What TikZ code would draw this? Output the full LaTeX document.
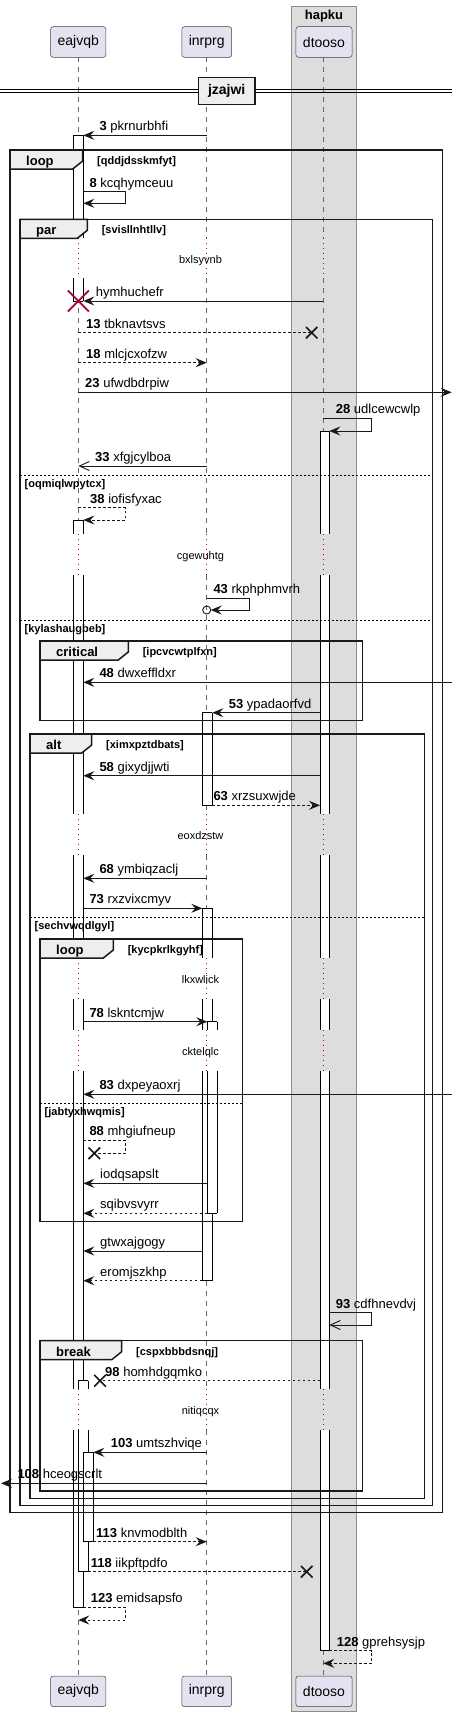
\documentclass[tikz,border=0pt]{standalone}
\usepackage{fontspec}
\setmainfont{Liberation Sans}
\usetikzlibrary{arrows.meta}
\definecolor{crim}{HTML}{A80036}
\definecolor{partfill}{HTML}{E2E2F0}
\definecolor{tabfill}{HTML}{EEEEEE}
\definecolor{grpfill}{HTML}{DDDDDD}
\newcommand\seqnum[1]{\textbf{#1}\ }
\newcommand\seqmsg[7]{%
  \coordinate (#1a) at (#4,#3);
  \coordinate (#1b) at (#5,#3);
  \draw[msg,#2] (#1a) -- (#1b);
  \node[msglab] (#1t) at (#6,#3-4.5) {#7};}
\newcommand\seqself[9]{%
  \coordinate (#1a) at (#3,#4);
  \coordinate (#1b) at (#7,#6);
  \draw[msg,#2] (#1a) -- (#5,#4) -- (#5,#6) -- (#1b);
  \node[msglab] (#1t) at (#8,#4-4.5) {#9};}
\newcommand\actbox[6]{%
  \fill[white] (#1,#3) rectangle (#2,#4);
  \draw[actl] (#1,#3) -- (#1,#4) (#2,#3) -- (#2,#4);
  \ifnum#5=1 \draw[actl] (#1,#3) -- (#2,#3);\fi
  \ifnum#6=1 \draw[actl] (#1,#4) -- (#2,#4);\fi}
\newcommand\seqframe[8]{%
  \draw[frm] (#2,#3) rectangle (#4,#5);
  \filldraw[frm,fill=tabfill] (#2,#3) -- (#6,#3) -- (#6,#3+11) -- (#6-10,#3+19) -- (#2,#3+19) -- cycle;
  \node[tablab] (#1k) at (#2+16,#3+15.5) {#7};
  \node[condlab] (#1c) at (#6+14.3,#3+14.5) {#8};}
\newcommand\seqsep[5]{%
  \draw[sepl] (#2,#4) -- (#3,#4);
  \node[condlab] (#1) at (#2+4.5,#4+12.5) {#5};}
\newcommand\seqx[5]{%
  \coordinate (#1) at (#2,#3);
  \draw[#5] (#2-#4,#3-#4) -- (#2+#4,#3+#4) (#2-#4,#3+#4) -- (#2+#4,#3-#4);}
\begin{document}
\begin{tikzpicture}[x=1pt,y=-1pt,
  msg/.style={line width=0.9pt,draw=black!90},
  fh/.style={-{Stealth[length=11pt,width=9pt,inset=4pt]}},
  oh/.style={-{Straight Barb[length=10pt,width=9pt]}},
  dsh/.style={dash pattern=on 2.5pt off 2.5pt},
  msglab/.style={anchor=base west,inner sep=0pt,font=\fontsize{13}{15}\selectfont},
  lifel/.style={draw=black!60,line width=0.6pt,dash pattern=on 5pt off 5pt},
  delayl/.style={draw=crim,line width=0.9pt,dash pattern=on 1pt off 4pt},
  actl/.style={line width=0.9pt,draw=black},
  frm/.style={line width=1.5pt,draw=black!90},
  tablab/.style={anchor=base west,inner sep=0pt,font=\fontsize{13}{15}\selectfont\bfseries},
  condlab/.style={anchor=base west,inner sep=0pt,font=\fontsize{11}{13}\selectfont\bfseries},
  sepl/.style={line width=0.9pt,dash pattern=on 2pt off 2pt},
  delaytxt/.style={anchor=base,inner sep=0pt,font=\fontsize{11}{13}\selectfont},
  part/.style={draw=black!75,line width=0.5pt,fill=partfill,rounded corners=2.5pt,inner xsep=7pt,inner ysep=0pt,minimum height=30.6pt,font=\fontsize{14}{16}\selectfont},
  xblack/.style={line width=1.7pt,draw=black!90},
  xred/.style={line width=1.8pt,draw=crim}]
\useasboundingbox (0,0) rectangle (458,1717);
% group box
\draw[fill=grpfill,draw=black!45,line width=1pt] (291.7,6) rectangle (356.3,1711.7);
\node[anchor=base,inner sep=0pt,font=\fontsize{13}{15}\selectfont\bfseries] (grp) at (324,19.3) {hapku};
% lifelines
\foreach \x in {78.3,206.7,323.3} {
  \foreach \a/\b in {57.3/238.3,278.3/534,575/814,855/958.3,999/1030,1071/1389,1430/1675.7}
    \draw[lifel] (\x,\a) -- (\x,\b);
  \foreach \a/\b in {238.3/278.3,534/575,814/855,958.3/999,1030/1071,1389/1430}
    \draw[delayl] (\x,\a) -- (\x,\b);
}
% delay texts
\node[delaytxt] (d1) at (200.5,263.3) {bxlsyvnb};
\node[delaytxt] (d2) at (200.5,559) {cgewuhtg};
\node[delaytxt] (d3) at (200.5,839.3) {eoxdzstw};
\node[delaytxt] (d4) at (200.5,983) {lkxwlick};
\node[delaytxt] (d5) at (200.5,1055.7) {cktelqlc};
\node[delaytxt] (d6) at (200.5,1414.7) {nitiqcqx};
% activations
\actbox{73.3}{83.3}{135.3}{238.3}{1}{0}
\actbox{73.3}{83.3}{278.3}{301}{0}{1}
\actbox{73.3}{83.3}{520}{534}{1}{0}
\actbox{73.3}{83.3}{575}{814}{0}{0}
\actbox{73.3}{83.3}{855}{958.3}{0}{0}
\actbox{73.3}{83.3}{999}{1030}{0}{0}
\actbox{73.3}{83.3}{1071}{1389}{0}{0}
\actbox{73.3}{83.3}{1430}{1607.3}{0}{1}
\actbox{78.3}{88.3}{1380.7}{1389}{1}{0}
\actbox{78.3}{88.3}{1430}{1571.7}{0}{1}
\actbox{83.3}{93.3}{1452.3}{1541.7}{1}{1}
\actbox{202.3}{212.3}{712.7}{805.3}{1}{1}
\actbox{202.3}{212.3}{908.3}{958.3}{1}{0}
\actbox{202.3}{212.3}{999}{1030}{0}{0}
\actbox{202.3}{212.3}{1071}{1280.7}{0}{1}
\actbox{207.3}{217.3}{1021.7}{1030}{1}{0}
\actbox{207.3}{217.3}{1071}{1213.3}{0}{1}
\actbox{320}{329.3}{431}{534}{1}{0}
\actbox{320}{329.3}{575}{814}{0}{0}
\actbox{320}{329.3}{855}{958.3}{0}{0}
\actbox{320}{329.3}{999}{1030}{0}{0}
\actbox{320}{329.3}{1071}{1389}{0}{0}
\actbox{320}{329.3}{1430}{1650.7}{0}{1}
% frames
\seqframe{f1}{10}{150}{442.7}{1512.7}{82.7}{loop}{[qddjdsskmfyt]}
\seqframe{f2}{20}{219.3}{432.7}{1505.7}{87.3}{par}{[svisllnhtllv]}
\seqsep{s1}{20}{432.7}{475.3}{[oqmiqlwpytcx]}
\seqsep{s2}{20}{432.7}{620}{[kylashaugbeb]}
\seqframe{f3}{40}{641}{362.3}{720.3}{128.3}{critical}{[ipcvcwtplfxn]}
\seqframe{f4}{30}{734}{424.3}{1498.3}{91.7}{alt}{[ximxpztdbats]}
\seqsep{s3}{30}{424.3}{917.3}{[sechvwqdlgyl]}
\seqframe{f5}{40}{939}{242.3}{1221.3}{113.3}{loop}{[kycpkrlkgyhf]}
\seqsep{s4}{40}{242.3}{1103.3}{[jabtyxhwqmis]}
\seqframe{f6}{40}{1340.7}{362.3}{1491}{121.7}{break}{[cspxbbbdsnqj]}
% messages
\seqmsg{m3}{fh}{135.3}{206.7}{83.3}{99.3}{\seqnum{3}pkrnurbhfi}
\seqself{m8}{fh}{83.3}{191.7}{125.3}{203.3}{83.3}{89.3}{\seqnum{8}kcqhymceuu}
\seqmsg{m10}{fh}{301}{323.3}{83.3}{95.7}{hymhuchefr}
\seqx{x10}{78.3}{301}{10.5}{xred}
\seqmsg{m13}{dsh}{332.7}{78.3}{311.7}{86}{\seqnum{13}tbknavtsvs}
\seqx{x13}{311.7}{332.7}{5.7}{xblack}
\seqmsg{m18}{fh,dsh}{362.7}{78.3}{206.7}{86}{\seqnum{18}mlcjcxofzw}
\seqmsg{m23}{fh}{392.3}{78.3}{451.7}{85}{\seqnum{23}ufwdbdrpiw}
\seqself{m28}{fh}{323.3}{418.3}{371.7}{431}{329.3}{335.7}{\seqnum{28}udlcewcwlp}
\seqmsg{m33}{oh}{466}{206.7}{78.3}{95}{\seqnum{33}xfgjcylboa}
\seqself{m38}{fh,dsh}{78.3}{507.7}{125.3}{520}{83.3}{90}{\seqnum{38}iofisfyxac}
\seqself{m43}{fh}{206.7}{598.3}{249.3}{610}{210.7}{213.3}{\seqnum{43}rkphphmvrh}
\node[circle,draw=black!90,line width=0.9pt,inner sep=0pt,minimum size=8pt] (c43) at (206.7,610) {};
\seqmsg{m48}{fh}{682.3}{451.7}{83.3}{99.3}{\seqnum{48}dwxeffldxr}
\seqmsg{m53}{fh}{712.7}{320}{212.3}{228.7}{\seqnum{53}ypadaorfvd}
\seqmsg{m58}{fh}{775.7}{320}{83.3}{99.3}{\seqnum{58}gixydjjwti}
\seqmsg{m63}{fh,dsh}{805.3}{212.3}{320}{213.3}{\seqnum{63}xrzsuxwjde}
\seqmsg{m68}{fh}{878.3}{206.7}{83.3}{99.3}{\seqnum{68}ymbiqzaclj}
\seqmsg{m73}{fh}{908.3}{83.3}{202.3}{89.3}{\seqnum{73}rxzvixcmyv}
\seqmsg{m78}{fh}{1021.7}{83.3}{207.3}{89.3}{\seqnum{78}lskntcmjw}
\seqmsg{m83}{fh}{1094.3}{451.7}{83.3}{99.3}{\seqnum{83}dxpeyaoxrj}
\seqself{m88}{dsh}{83.3}{1140}{125.3}{1153.3}{94.3}{89.3}{\seqnum{88}mhgiufneup}
\seqx{x88}{94.3}{1153.3}{5.8}{xblack}
\seqmsg{m89}{fh}{1183.3}{207.3}{83.3}{100}{iodqsapslt}
\seqmsg{m90}{fh,dsh}{1213.3}{207.3}{83.3}{100}{sqibvsvyrr}
\seqmsg{m91}{fh}{1251}{202.3}{83.3}{100}{gtwxajgogy}
\seqmsg{m92}{fh,dsh}{1280.7}{202.3}{83.3}{100}{eromjszkhp}
\seqself{m93}{oh}{329.3}{1312.7}{371.7}{1325}{329.3}{335.7}{\seqnum{93}cdfhnevdvj}
\seqmsg{m98}{dsh}{1380.7}{320}{100}{105}{\seqnum{98}homhdgqmko}
\seqx{x98}{100}{1380.7}{5.8}{xblack}
\seqmsg{m103}{fh}{1452.3}{206.7}{93.3}{110.7}{\seqnum{103}umtszhviqe}
\seqmsg{m108}{fh}{1483.3}{206.7}{1}{17.3}{\seqnum{108}hceogscrlt}
\seqmsg{m113}{fh,dsh}{1541.7}{93.3}{206.7}{96}{\seqnum{113}knvmodblth}
\seqmsg{m118}{dsh}{1571.7}{88.3}{306.7}{90.7}{\seqnum{118}iikpftpdfo}
\seqx{x118}{306.7}{1571.7}{5.8}{xblack}
\seqself{m123}{fh,dsh}{83.3}{1607.3}{125.3}{1620}{78.3}{90.7}{\seqnum{123}emidsapsfo}
\seqself{m128}{fh,dsh}{329.3}{1650.7}{371.7}{1663.3}{323.3}{336.7}{\seqnum{128}gprehsysjp}
% participants
\node[part] (eaT) at (78.3,42) {eajvqb};
\node[part] (inT) at (206.7,42) {inrprg};
\node[part] (dtT) at (324,42) {dtooso};
\node[part] (eaB) at (78.3,1691.3) {eajvqb};
\node[part] (inB) at (206.7,1691.3) {inrprg};
\node[part] (dtB) at (324,1691.3) {dtooso};
% divider
\draw[line width=0.9pt] (0,89.3) -- (451.7,89.3) (0,92) -- (451.7,92);
\node[draw=black!90,line width=1.5pt,fill=tabfill,minimum width=56.7pt,minimum height=26.6pt,inner sep=0pt,font=\fontsize{14}{16}\selectfont\bfseries] (div) at (226.7,91) {jzajwi};
\end{tikzpicture}
\end{document}
